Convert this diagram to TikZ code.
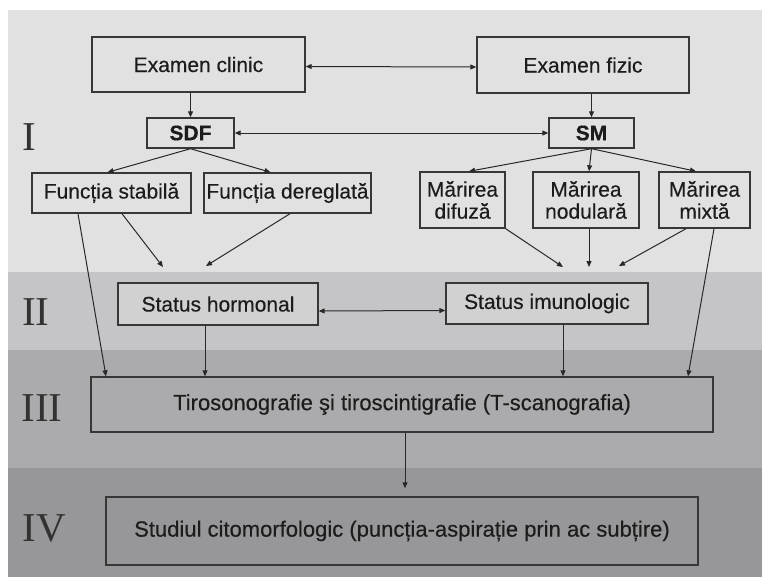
\documentclass[tikz,border=0pt]{standalone}
\usepackage{fontspec}
\setmainfont[FakeBold=0.6]{Liberation Sans}
\newfontfamily\boxfont[FakeBold=0.35]{Liberation Sans}
\newfontfamily\numfont{Liberation Serif}
\usetikzlibrary{arrows.meta}
\definecolor{bandI}{RGB}{225,225,225}
\definecolor{bandII}{RGB}{197,197,199}
\definecolor{bandIII}{RGB}{171,171,173}
\definecolor{bandIV}{RGB}{151,151,154}
\definecolor{boxline}{RGB}{55,55,55}
\definecolor{conn}{RGB}{40,40,40}
\definecolor{txt}{RGB}{28,28,28}
\definecolor{numc}{RGB}{50,50,50}
\tikzset{
  stagebox/.style={draw=boxline, line width=1.4pt, inner sep=0pt, text=txt,
    font=\boxfont\fontsize{21}{22}\selectfont, align=center},
  bigbox/.style={stagebox, font=\boxfont\fontsize{22}{24}\selectfont},
  numlabel/.style={text=numc, font=\numfont\fontsize{41}{41}\selectfont, inner sep=0pt},
  conarrow/.style={draw=conn, line width=1pt, -{Triangle[length=6pt,width=5pt]}},
  dblarrow/.style={draw=conn, line width=1pt, {Triangle[length=6pt,width=5pt]}-{Triangle[length=6pt,width=5pt]}},
}
\begin{document}
\begin{tikzpicture}[x=1pt,y=-1pt]
\useasboundingbox (0,0) rectangle (762,578);
\fill[white] (0,0) rectangle (762,578);
% bands
\fill[bandI]   (8,10)  rectangle (762,272);
\fill[bandII]  (8,272) rectangle (762,350);
\fill[bandIII] (8,350) rectangle (762,468);
\fill[bandIV]  (8,468) rectangle (762,577);
% stage numerals
\node[numlabel] (nI)   at (29,137) {I};
\node[numlabel] (nII)  at (36,312) {II};
\node[numlabel] (nIII) at (42,408) {III};
\node[numlabel] (nIV)  at (44,528) {IV};
% boxes
\node[stagebox, fill=bandI, minimum width=213pt, minimum height=55pt] (clinic) at (198.5,64.5) {Examen clinic};
\node[stagebox, fill=bandI, minimum width=212pt, minimum height=56pt] (fizic) at (583,65) {Examen fizic};
\node[stagebox, fill=bandI, minimum width=87pt, minimum height=30pt, font=\bfseries\fontsize{21}{22}\selectfont] (sdf) at (190.5,133) {SDF};
\node[stagebox, fill=bandI, minimum width=85pt, minimum height=30pt, font=\bfseries\fontsize{21}{22}\selectfont] (sm) at (591.5,133) {SM};
\node[stagebox, fill=bandI, minimum width=159pt, minimum height=40pt] (stab) at (111.5,193) {Funcția stabilă};
\node[stagebox, fill=bandI, minimum width=167pt, minimum height=40pt] (dereg) at (287.5,193) {Funcția dereglată};
\node[stagebox, fill=bandI, minimum width=85pt, minimum height=56pt] (dif) at (462.5,200) {Mărirea\\difuză};
\node[stagebox, fill=bandI, minimum width=106pt, minimum height=56pt] (nod) at (586,200) {Mărirea\\nodulară};
\node[stagebox, fill=bandI, minimum width=91pt, minimum height=56pt] (mix) at (704.5,200) {Mărirea\\mixtă};
\node[stagebox, fill=bandII!80!white, minimum width=200pt, minimum height=42pt] (hor) at (218,304) {Status hormonal};
\node[stagebox, fill=bandII!80!white, minimum width=202pt, minimum height=41pt] (imu) at (547,303.5) {Status imunologic};
\node[bigbox, fill=bandIII, minimum width=622pt, minimum height=55pt] (tir) at (402,404.5) {Tirosonografie şi tiroscintigrafie (T-scanografia)};
\node[bigbox, fill=bandIV, minimum width=592pt, minimum height=68pt] (stu) at (402,531) {Studiul citomorfologic (puncția-aspirație prin ac subțire)};
% free ends
\coordinate (hjoinA) at (163,267);
\coordinate (hjoinB) at (206,266);
\coordinate (ijoinA) at (563,267);
\coordinate (ijoinB) at (589,267);
\coordinate (ijoinC) at (619,266);
% connectors
\draw[dblarrow] ([yshift=-2pt]clinic.east) -- ([yshift=-2pt]fizic.west);
\draw[dblarrow] (sdf.east) -- (sm.west);
\draw[dblarrow] ([yshift=-7pt]hor.east) -- ([yshift=-7pt]imu.west);
\draw[conarrow] (sdf.north |- clinic.south) -- (sdf.north);
\draw[conarrow] (sm.north |- fizic.south) -- (sm.north);
\draw[conarrow] (sdf.south) -- ([xshift=-4pt]stab.north);
\draw[conarrow] (sdf.south) -- ([xshift=-17pt]dereg.north);
\draw[conarrow] (sm.south) -- ([xshift=6.5pt]dif.north);
\draw[conarrow] (sm.south) -- ([xshift=3pt]nod.north);
\draw[conarrow] (sm.south) -- ([xshift=-8.5pt]mix.north);
\draw[conarrow] ([xshift=10.5pt]stab.south) -- (hjoinA);
\draw[conarrow] ([xshift=2.5pt]dereg.south) -- (hjoinB);
\draw[conarrow] (dif.south east) -- (ijoinA);
\draw[conarrow] ([xshift=3pt]nod.south) -- (ijoinB);
\draw[conarrow] ([xshift=-18.5pt]mix.south) -- (ijoinC);
\draw[conarrow] ([xshift=-33.5pt]stab.south) -- ([xshift=-296pt]tir.north);
\draw[conarrow] ([xshift=9.5pt]mix.south) -- ([xshift=286pt]tir.north);
\draw[conarrow] ([xshift=-13pt]hor.south) -- ([xshift=-13pt]hor.south |- tir.north);
\draw[conarrow] ([xshift=16pt]imu.south) -- ([xshift=16pt]imu.south |- tir.north);
\draw[conarrow, shorten >=8pt] ([xshift=3pt]tir.south) -- ([xshift=3pt]tir.south |- stu.north);
\end{tikzpicture}
\end{document}
